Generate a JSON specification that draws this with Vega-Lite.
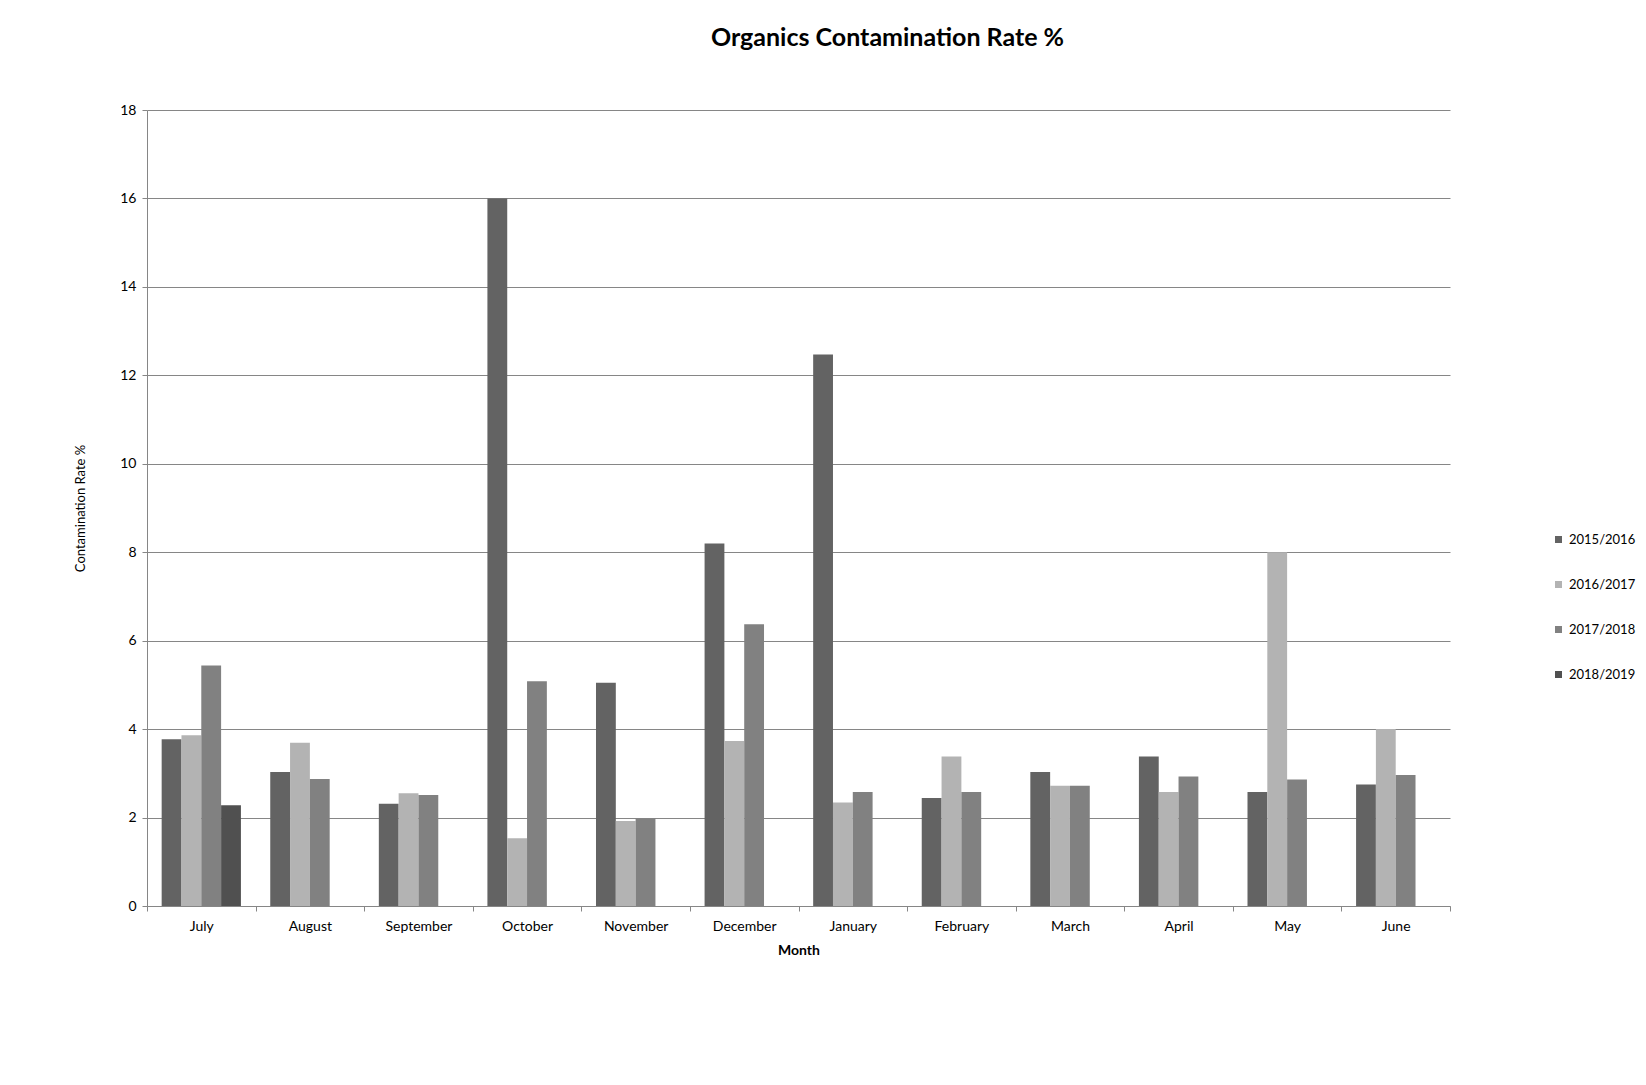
{
  "$schema": "https://vega.github.io/schema/vega-lite/v6.json",
  "autosize": {"type": "none"},
  "width": 1303,
  "height": 796,
  "padding": {"left": 147, "top": 110, "right": 196, "bottom": 179},
  "background": "white",
  "title": {
    "text": "Organics Contamination Rate %",
    "font": "Lato",
    "fontSize": 25,
    "fontWeight": "bold",
    "color": "#000000",
    "anchor": "middle",
    "dx": 89,
    "offset": 52
  },
  "data": {
    "values": [
      {"month": "July", "year": "2015/2016", "rate": 3.77},
      {"month": "July", "year": "2016/2017", "rate": 3.86},
      {"month": "July", "year": "2017/2018", "rate": 5.44},
      {"month": "July", "year": "2018/2019", "rate": 2.28},
      {"month": "August", "year": "2015/2016", "rate": 3.03},
      {"month": "August", "year": "2016/2017", "rate": 3.69},
      {"month": "August", "year": "2017/2018", "rate": 2.87},
      {"month": "September", "year": "2015/2016", "rate": 2.31},
      {"month": "September", "year": "2016/2017", "rate": 2.55},
      {"month": "September", "year": "2017/2018", "rate": 2.51},
      {"month": "October", "year": "2015/2016", "rate": 16.0},
      {"month": "October", "year": "2016/2017", "rate": 1.53},
      {"month": "October", "year": "2017/2018", "rate": 5.08},
      {"month": "November", "year": "2015/2016", "rate": 5.05},
      {"month": "November", "year": "2016/2017", "rate": 1.92},
      {"month": "November", "year": "2017/2018", "rate": 1.98},
      {"month": "December", "year": "2015/2016", "rate": 8.2},
      {"month": "December", "year": "2016/2017", "rate": 3.73},
      {"month": "December", "year": "2017/2018", "rate": 6.37},
      {"month": "January", "year": "2015/2016", "rate": 12.47},
      {"month": "January", "year": "2016/2017", "rate": 2.34},
      {"month": "January", "year": "2017/2018", "rate": 2.58},
      {"month": "February", "year": "2015/2016", "rate": 2.44},
      {"month": "February", "year": "2016/2017", "rate": 3.38},
      {"month": "February", "year": "2017/2018", "rate": 2.58},
      {"month": "March", "year": "2015/2016", "rate": 3.03},
      {"month": "March", "year": "2016/2017", "rate": 2.72},
      {"month": "March", "year": "2017/2018", "rate": 2.72},
      {"month": "April", "year": "2015/2016", "rate": 3.38},
      {"month": "April", "year": "2016/2017", "rate": 2.58},
      {"month": "April", "year": "2017/2018", "rate": 2.93},
      {"month": "May", "year": "2015/2016", "rate": 2.58},
      {"month": "May", "year": "2016/2017", "rate": 8.0},
      {"month": "May", "year": "2017/2018", "rate": 2.86},
      {"month": "June", "year": "2015/2016", "rate": 2.75},
      {"month": "June", "year": "2016/2017", "rate": 4.0},
      {"month": "June", "year": "2017/2018", "rate": 2.96}
    ]
  },
  "mark": {"type": "bar"},
  "encoding": {
    "x": {
      "field": "month",
      "type": "nominal",
      "sort": ["July", "August", "September", "October", "November", "December", "January", "February", "March", "April", "May", "June"],
      "scale": {"paddingInner": 0, "paddingOuter": 0},
      "axis": {
        "title": "Month",
        "titleFont": "Lato",
        "titleFontSize": 14,
        "titleFontWeight": "bold",
        "titleColor": "#000000",
        "titlePadding": 10,
        "labelFont": "Lato",
        "labelFontSize": 14,
        "labelColor": "#000000",
        "labelAngle": 0,
        "labelPadding": 8,
        "tickBand": "extent",
        "tickSize": 5,
        "tickColor": "#868686",
        "domainColor": "#868686",
        "grid": false
      }
    },
    "xOffset": {
      "field": "year",
      "type": "nominal",
      "scale": {"domain": ["2015/2016", "2016/2017", "2017/2018", "2018/2019"], "paddingInner": 0, "paddingOuter": 0.74}
    },
    "y": {
      "field": "rate",
      "type": "quantitative",
      "scale": {"domain": [0, 18], "nice": false},
      "axis": {
        "title": "Contamination  Rate %",
        "titleFont": "Lato",
        "titleFontSize": 13,
        "titleFontWeight": "normal",
        "titleColor": "#000000",
        "titlePadding": 32,
        "values": [0, 2, 4, 6, 8, 10, 12, 14, 16, 18],
        "labelFont": "Lato",
        "labelFontSize": 14,
        "labelColor": "#000000",
        "labelPadding": 6,
        "tickSize": 5,
        "tickColor": "#868686",
        "domainColor": "#868686",
        "gridColor": "#868686",
        "gridWidth": 1
      }
    },
    "color": {
      "field": "year",
      "type": "nominal",
      "scale": {
        "domain": ["2015/2016", "2016/2017", "2017/2018", "2018/2019"],
        "range": ["#636363", "#b3b3b3", "#818181", "#505050"]
      },
      "legend": {
        "title": null,
        "orient": "none",
        "legendX": 1405,
        "legendY": 423,
        "symbolType": "square",
        "symbolSize": 49,
        "symbolStrokeWidth": 0,
        "labelFont": "Lato",
        "labelFontSize": 13,
        "labelColor": "#000000",
        "rowPadding": 31
      }
    }
  },
  "config": {
    "view": {"stroke": null},
    "axis": {"domainWidth": 1}
  }
}
